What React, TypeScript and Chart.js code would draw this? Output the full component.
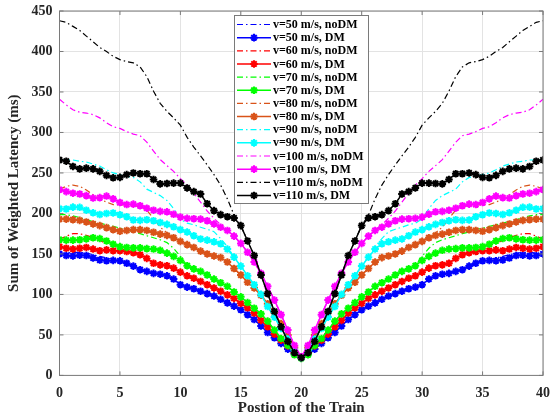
import React, { useEffect, useRef } from 'react';
import { Chart, registerables } from 'chart.js';

Chart.register(...registerables);

const FONT = '"Liberation Serif", "Times New Roman", serif';

// x positions of the train (73 samples)
const positions = [0, 0.56, 1.11, 1.67, 2.22, 2.78, 3.33, 3.89, 4.44, 5, 5.56, 6.11, 6.67, 7.22, 7.78, 8.33, 8.89, 9.44, 10, 10.56, 11.11, 11.67, 12.22, 12.78, 13.33, 13.89, 14.44, 15, 15.56, 16.11, 16.67, 17.22, 17.78, 18.33, 18.89, 19.44, 20, 20.56, 21.11, 21.67, 22.22, 22.78, 23.33, 23.89, 24.44, 25, 25.56, 26.11, 26.67, 27.22, 27.78, 28.33, 28.89, 29.44, 30, 30.56, 31.11, 31.67, 32.22, 32.78, 33.33, 33.89, 34.44, 35, 35.56, 36.11, 36.67, 37.22, 37.78, 38.33, 38.89, 39.44, 40];

const xTicks = [0, 5, 10, 15, 20, 25, 30, 35, 40];
const yTicks = [0, 50, 100, 150, 200, 250, 300, 350, 400, 450];

const v50NoDM = [151, 151, 152, 152, 151, 149, 147, 145, 143, 142, 138.5, 135, 130.5, 128.5, 126, 125, 123, 119, 112, 109, 107, 104, 101, 98, 94, 89.5, 85.5, 81, 75, 69, 61, 53, 46.5, 39.5, 32.5, 26.5, 22,
  26.5, 32.5, 39.5, 46.5, 53, 61, 69, 75, 81, 85.5, 89.5, 94, 98, 101, 104, 107, 109, 112, 119, 123, 125, 126, 128.5, 130.5, 135, 138.5, 142, 143, 145, 147, 149, 151, 152, 152, 151, 151];
const v50DM = [150, 148, 147.5, 148.5, 148, 145, 142.5, 141.5, 142, 141.5, 138.5, 135, 130.5, 128.5, 126, 125, 123, 119, 112, 109, 107, 104, 101, 98, 94, 89.5, 85.5, 81, 75, 69, 61, 53, 46.5, 39.5, 32.5, 26.5, 22,
  26.5, 32.5, 39.5, 46.5, 53, 61, 69, 75, 81, 85.5, 89.5, 94, 98, 101, 104, 107, 109, 112, 119, 123, 125, 126, 128.5, 130.5, 135, 138.5, 141.5, 142, 141.5, 142.5, 145, 148, 148.5, 147.5, 148, 150];

const v60NoDM = [168, 172, 175, 175, 173, 170, 166.5, 163, 160, 157, 154, 151.5, 149, 144.5, 138.5, 136.5, 135.5, 132.5, 127.5, 123, 120, 116, 112, 108, 104, 99.5, 95, 89, 83.5, 77, 68, 60, 51, 43.5, 36.5, 28, 22,
  28, 36.5, 43.5, 51, 60, 68, 77, 83.5, 89, 95, 99.5, 104, 108, 112, 116, 120, 123, 127.5, 132.5, 135.5, 136.5, 138.5, 144.5, 149, 151.5, 154, 157, 160, 163, 166.5, 170, 173, 175, 175, 172, 168];
const v60DM = [159, 157, 156, 157, 158, 156, 154, 155, 154, 154, 153, 151.5, 149, 144.5, 138.5, 136.5, 135.5, 132.5, 127.5, 123, 120, 116, 112, 108, 104, 99.5, 95, 89, 83.5, 77, 68, 60, 51, 43.5, 36.5, 28, 22,
  28, 36.5, 43.5, 51, 60, 68, 77, 83.5, 89, 95, 99.5, 104, 108, 112, 116, 120, 123, 127.5, 132.5, 135.5, 136.5, 138.5, 144.5, 149, 151.5, 153, 154, 154, 155, 154, 156, 158, 157, 156, 157, 159];

const v70NoDM = [198.5, 198.5, 197, 195, 192, 190, 188, 186, 184, 182, 180, 177, 175, 172.5, 170, 167.5, 164, 157, 147, 135.5, 131.5, 128.5, 124, 119, 114.5, 110, 103, 97, 90, 83, 76, 67, 56, 45.5, 37, 25.5, 21,
  25.5, 37, 45.5, 56, 67, 76, 83, 90, 97, 103, 110, 114.5, 119, 124, 128.5, 131.5, 135.5, 147, 157, 164, 167.5, 170, 172.5, 175, 177, 180, 182, 184, 186, 188, 190, 192, 195, 197, 198.5, 198.5];
const v70DM = [167.5, 167, 167, 167.5, 168.5, 170, 169, 166, 162, 159, 158, 157.5, 157.5, 156.5, 156, 154.5, 151, 147, 142, 135.5, 131.5, 128.5, 124, 119, 114.5, 110, 103, 97, 90, 83, 76, 67, 56, 45.5, 37, 25.5, 21,
  25.5, 37, 45.5, 56, 67, 76, 83, 90, 97, 103, 110, 114.5, 119, 124, 128.5, 131.5, 135.5, 142, 147, 151, 154.5, 156, 156.5, 157.5, 157.5, 158, 159, 162, 166, 169, 170, 168.5, 167.5, 167, 167, 167.5];

const v80NoDM = [230, 233.5, 235, 233.5, 229, 223, 218, 214, 211, 210.5, 211, 210, 208, 204, 194, 183, 176, 171, 166, 161.5, 158, 153.5, 150, 147.5, 145.5, 140, 132, 124, 115, 108, 99, 88.5, 77, 64, 50, 34, 22,
  34, 50, 64, 77, 88.5, 99, 108, 115, 124, 132, 140, 145.5, 147.5, 150, 153.5, 158, 161.5, 166, 171, 176, 183, 194, 204, 208, 210, 211, 210.5, 211, 214, 218, 223, 229, 233.5, 235, 233.5, 230];
const v80DM = [193, 193, 192.3, 191.5, 189.5, 187, 185, 182.5, 180, 178, 179, 180, 180, 179, 176.8, 174.5, 172.8, 170, 165.5, 161.5, 158, 153.5, 150, 147.5, 145.5, 140, 132, 124, 115, 108, 99, 88.5, 77, 64, 50, 34, 22,
  34, 50, 64, 77, 88.5, 99, 108, 115, 124, 132, 140, 145.5, 147.5, 150, 153.5, 158, 161.5, 165.5, 170, 172.8, 174.5, 176.8, 179, 180, 180, 179, 178, 180, 182.5, 185, 187, 189.5, 191.5, 192.3, 193, 193];

const v90NoDM = [266, 266, 266, 264.5, 263.5, 261, 258.5, 254, 250, 248, 246, 244.5, 239, 230, 226, 222, 216, 206, 193, 188, 186, 183, 180.5, 177.5, 169, 159, 146, 135, 123, 112, 100, 85, 72, 58, 45, 31, 22,
  31, 45, 58, 72, 85, 100, 112, 123, 135, 146, 159, 169, 177.5, 180.5, 183, 186, 188, 193, 206, 216, 222, 226, 230, 239, 244.5, 246, 248, 250, 254, 258.5, 261, 263.5, 264.5, 266, 266, 266];
const v90DM = [206, 205.5, 207.8, 207.6, 204, 200.8, 198.7, 200, 200.6, 198.4, 196, 191.9, 191.5, 192.3, 191, 188.8, 186.5, 183.5, 180, 177, 172.5, 168.5, 167, 165, 162.5, 156, 146, 135, 123, 112, 100, 85, 72, 58, 45, 31, 22,
  31, 45, 58, 72, 85, 100, 112, 123, 135, 146, 156, 162.5, 165, 167, 168.5, 172.5, 177, 180, 183.5, 186.5, 188.8, 191, 192.3, 191.5, 191.9, 196, 198.4, 200.6, 200, 198.7, 200.8, 204, 207.6, 207.8, 205.5, 206];

const v100NoDM = [341, 334, 328, 325, 324, 322, 318, 312, 307, 305, 301, 298, 296, 288, 277, 266.5, 259, 252, 243, 235, 225, 214, 203, 194, 186, 180, 172, 163, 152, 140, 126, 110, 93, 75, 56, 37, 23,
  37, 56, 75, 93, 110, 126, 140, 152, 163, 172, 180, 186, 194, 203, 214, 225, 235, 243, 252, 259, 266.5, 277, 288, 296, 298, 301, 305, 307, 312, 318, 322, 324, 325, 328, 334, 341];
const v100DM = [229.5, 227, 225, 224, 222, 219, 219.5, 221.5, 218, 213.5, 211, 211.5, 209.5, 206.5, 204, 202.5, 202, 199, 195.5, 194, 193.5, 193, 191, 187, 183, 179, 172, 163, 152, 140, 126, 110, 93, 75, 56, 37, 23,
  37, 56, 75, 93, 110, 126, 140, 152, 163, 172, 179, 183, 187, 191, 193, 193.5, 194, 195.5, 199, 202, 202.5, 204, 206.5, 209.5, 211.5, 211, 213.5, 218, 221.5, 219.5, 219, 222, 224, 225, 227, 229.5];

const v110NoDM = [438, 436, 431, 426, 419, 412, 405, 400, 394, 390, 387.5, 386, 381, 369, 351, 336, 326, 318, 309, 294, 282, 271, 260, 248, 235, 218, 198, 185, 166, 148, 124, 101, 79, 60, 42, 28, 22,
  28, 42, 60, 79, 101, 124, 148, 166, 185, 198, 218, 235, 248, 260, 271, 282, 294, 309, 318, 326, 336, 351, 369, 381, 386, 387.5, 390, 394, 400, 405, 412, 419, 426, 431, 436, 438];
const v110DM = [266, 264.5, 258, 255, 256, 255, 252, 247, 244, 244.5, 248, 250, 249, 249, 242, 236.5, 237, 237.5, 237.5, 231.5, 227, 224, 212, 203.5, 198.5, 196, 194.5, 185, 166, 148, 124, 101, 79, 60, 42, 28, 22,
  28, 42, 60, 79, 101, 124, 148, 166, 185, 194.5, 196, 198.5, 203.5, 212, 224, 227, 231.5, 237.5, 237.5, 237, 236.5, 242, 249, 249, 250, 248, 244.5, 244, 247, 252, 255, 256, 255, 258, 264.5, 266];

const speeds = [50, 60, 70, 80, 90, 100, 110];
const colors = ['#0000FF', '#FF0000', '#00FF00', '#D95319', '#00FFFF', '#FF00FF', '#000000'];
const noDMSeries = [v50NoDM, v60NoDM, v70NoDM, v80NoDM, v90NoDM, v100NoDM, v110NoDM];
const dmSeries = [v50DM, v60DM, v70DM, v80DM, v90DM, v100DM, v110DM];

const DASH = [6, 3, 1.5, 3];

function drawStar(ctx: CanvasRenderingContext2D, x: number, y: number, r: number, color: string) {
  ctx.save();
  ctx.strokeStyle = color;
  ctx.lineWidth = 2;
  ctx.setLineDash([]);
  ctx.beginPath();
  for (let i = 0; i < 4; i++) {
    const a = (i * Math.PI) / 4;
    ctx.moveTo(x - Math.cos(a) * r, y - Math.sin(a) * r);
    ctx.lineTo(x + Math.cos(a) * r, y + Math.sin(a) * r);
  }
  ctx.stroke();
  ctx.restore();
}

const framePlugin = {
  id: 'frameTicks',
  afterDatasetsDraw(chart: any) {
    const { ctx, chartArea: a, scales } = chart;
    ctx.save();
    ctx.strokeStyle = '#7a7a7a';
    ctx.lineWidth = 1;
    ctx.setLineDash([]);
    ctx.strokeRect(a.left, a.top, a.right - a.left, a.bottom - a.top);
    const tl = 4;
    ctx.beginPath();
    xTicks.forEach((v) => {
      const px = scales.x.getPixelForValue(v);
      ctx.moveTo(px, a.bottom);
      ctx.lineTo(px, a.bottom - tl);
      ctx.moveTo(px, a.top);
      ctx.lineTo(px, a.top + tl);
    });
    yTicks.forEach((v) => {
      const py = scales.y.getPixelForValue(v);
      ctx.moveTo(a.left, py);
      ctx.lineTo(a.left + tl, py);
      ctx.moveTo(a.right, py);
      ctx.lineTo(a.right - tl, py);
    });
    ctx.stroke();
    ctx.restore();
  },
};

const legendPlugin = {
  id: 'customLegend',
  afterDraw(chart: any) {
    const { ctx } = chart;
    const bx = 234, by = 15, bw = 134, bh = 188;
    ctx.save();
    ctx.fillStyle = '#ffffff';
    ctx.fillRect(bx, by, bw, bh);
    ctx.strokeStyle = '#7a7a7a';
    ctx.lineWidth = 1;
    ctx.strokeRect(bx + 0.5, by + 0.5, bw, bh);
    ctx.font = `bold 12px ${FONT}`;
    ctx.textBaseline = 'middle';
    ctx.textAlign = 'left';
    let row = 0;
    speeds.forEach((s, i) => {
      ['noDM', 'DM'].forEach((kind) => {
        const y = by + 9.5 + row * 13.15;
        const x0 = bx + 3, x1 = bx + 37;
        ctx.strokeStyle = colors[i];
        if (kind === 'noDM') {
          ctx.lineWidth = 1.2;
          ctx.setLineDash(DASH);
        } else {
          ctx.lineWidth = 1.5;
          ctx.setLineDash([]);
        }
        ctx.beginPath();
        ctx.moveTo(x0, y);
        ctx.lineTo(x1, y);
        ctx.stroke();
        ctx.setLineDash([]);
        if (kind === 'DM') drawStar(ctx, (x0 + x1) / 2, y, 3.8, colors[i]);
        ctx.fillStyle = '#000000';
        ctx.fillText(`v=${s} m/s, ${kind}`, bx + 39, y + 0.5);
        row++;
      });
    });
    ctx.restore();
  },
};

export default function App() {
  const ref = useRef<HTMLCanvasElement>(null);
  useEffect(() => {
    const datasets: any[] = [];
    speeds.forEach((s, i) => {
      datasets.push({
        label: `v=${s} m/s, noDM`,
        data: positions.map((x, j) => ({ x, y: noDMSeries[i][j] })),
        borderColor: colors[i],
        backgroundColor: colors[i],
        borderWidth: 1.2,
        borderDash: DASH,
        pointRadius: 0,
        fill: false,
        order: 100 - i * 2,
      });
      datasets.push({
        label: `v=${s} m/s, DM`,
        data: positions.map((x, j) => ({ x, y: dmSeries[i][j] })),
        borderColor: colors[i],
        backgroundColor: colors[i],
        borderWidth: 1.5,
        pointStyle: 'star',
        pointRadius: 3.8,
        pointBorderWidth: 2,
        pointBorderColor: colors[i],
        pointBackgroundColor: colors[i],
        fill: false,
        order: 99 - i * 2,
      });
    });
    const chart = new Chart(ref.current as HTMLCanvasElement, {
      type: 'line',
      data: { datasets },
      options: {
        responsive: false,
        animation: false,
        devicePixelRatio: 1,
        layout: { padding: { top: 11, right: 10, left: 0, bottom: 0 } },
        plugins: { legend: { display: false }, tooltip: { enabled: false } },
        elements: { point: { pointStyle: 'star' } },
        scales: {
          x: {
            type: 'linear',
            min: 0,
            max: 40,
            afterFit: (s: any) => { s.height = 42.6; s.paddingLeft = 0; s.paddingRight = 0; },
            afterBuildTicks: (s: any) => { s.ticks = xTicks.map((v) => ({ value: v })); },
            ticks: { font: { family: FONT, size: 14, weight: 'bold' }, color: '#262626', padding: 10, maxRotation: 0 },
            grid: { color: '#e3e3e3', drawTicks: false },
            border: { display: false },
            title: { display: true, text: 'Postion of the Train', font: { family: FONT, size: 15, weight: 'bold' }, color: '#262626', padding: { top: 0, bottom: 0.5 } },
          },
          y: {
            type: 'linear',
            min: 0,
            max: 450,
            afterFit: (s: any) => { s.width = 59.5; s.paddingTop = 0; s.paddingBottom = 0; },
            afterBuildTicks: (s: any) => { s.ticks = yTicks.map((v) => ({ value: v })); },
            ticks: { font: { family: FONT, size: 14, weight: 'bold' }, color: '#262626', padding: 7 },
            grid: { color: '#e3e3e3', drawTicks: false },
            border: { display: false },
            title: { display: true, text: 'Sum of Weighted Latency (ms)', font: { family: FONT, size: 15, weight: 'bold' }, color: '#262626', padding: { top: 5, bottom: 0 } },
          },
        },
      } as any,
      plugins: [framePlugin, legendPlugin],
    });
    return () => chart.destroy();
  }, []);
  return (
    <div style={{ position: 'fixed', left: 0, top: 0, width: 553, height: 418, background: '#ffffff' }}>
      <canvas ref={ref} width={553} height={418} style={{ display: 'block', width: 553, height: 418 }} />
    </div>
  );
}
